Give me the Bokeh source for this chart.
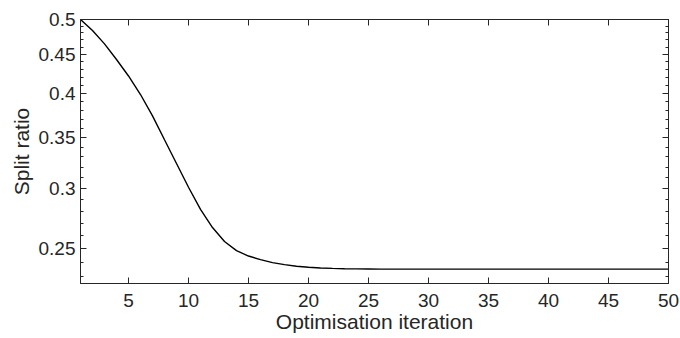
from bokeh.plotting import figure
from bokeh.models import Range1d, FixedTicker, LinearAxis, LogAxis, CustomJSTickFormatter
from bokeh.embed import file_html
from bokeh.resources import INLINE

# data
iterations = list(range(1, 51))
split_ratio = [0.500, 0.4835, 0.4645, 0.4430, 0.4215, 0.3985, 0.3735, 0.3475, 0.3235, 0.3010,
               0.2815, 0.2665, 0.2555, 0.2485, 0.2445, 0.2418, 0.2397, 0.2382, 0.2371, 0.2363,
               0.2358, 0.2355, 0.2353, 0.2352, 0.2351] + [0.2350] * 25
x_ticks = [5, 10, 15, 20, 25, 30, 35, 40, 45, 50]
y_ticks = [0.25, 0.3, 0.35, 0.4, 0.45, 0.5]
y_minor = [0.23, 0.24, 0.26, 0.27, 0.28, 0.29, 0.31, 0.32, 0.33, 0.34, 0.36, 0.37, 0.38,
           0.39, 0.41, 0.42, 0.43, 0.44, 0.46, 0.47, 0.48, 0.49]
x_title = "Optimisation iteration"
y_title = "Split ratio"

FONT = "Liberation Sans"
AX = "#262626"

p = figure(width=680, height=338, y_axis_type="log", output_backend="svg",
           toolbar_location=None, x_range=Range1d(1, 50), y_range=Range1d(0.225, 0.5))
p.min_border_left = 80
p.min_border_right = 12
p.min_border_top = 19
p.min_border_bottom = 55
p.grid.visible = False
p.outline_line_color = AX
p.outline_line_width = 1

p.line(iterations, split_ratio, line_color="black", line_width=1.4)

fmt = CustomJSTickFormatter(code="return String(Math.round(tick*100)/100);")
blank = CustomJSTickFormatter(code="return '';")

def style(ax):
    ax.axis_line_color = AX
    ax.major_tick_line_color = AX
    ax.minor_tick_line_color = AX
    ax.major_tick_in = 6
    ax.major_tick_out = 0
    ax.minor_tick_in = 3
    ax.minor_tick_out = 0
    ax.major_label_text_font = FONT
    ax.major_label_text_font_size = "19px"
    ax.major_label_text_color = AX
    ax.axis_label_text_font = FONT
    ax.axis_label_text_font_size = "21px"
    ax.axis_label_text_font_style = "normal"
    ax.axis_label_text_color = AX

xa = p.xaxis[0]
xa.ticker = FixedTicker(ticks=x_ticks, minor_ticks=[])
style(xa)
xa.axis_label = x_title
xa.major_label_standoff = 10
xa.axis_label_standoff = 0

ya = p.yaxis[0]
ya.ticker = FixedTicker(ticks=y_ticks, minor_ticks=y_minor)
ya.formatter = fmt
style(ya)
ya.axis_label = y_title
ya.major_label_standoff = 5
ya.axis_label_standoff = 3

top = LinearAxis(ticker=FixedTicker(ticks=x_ticks, minor_ticks=[]), formatter=blank)
style(top)
top.major_label_standoff = 0
p.add_layout(top, "above")
right = LogAxis(ticker=FixedTicker(ticks=y_ticks, minor_ticks=y_minor), formatter=blank)
style(right)
right.major_label_standoff = 0
p.add_layout(right, "right")

open("out.html", "w").write(file_html(p, INLINE))
